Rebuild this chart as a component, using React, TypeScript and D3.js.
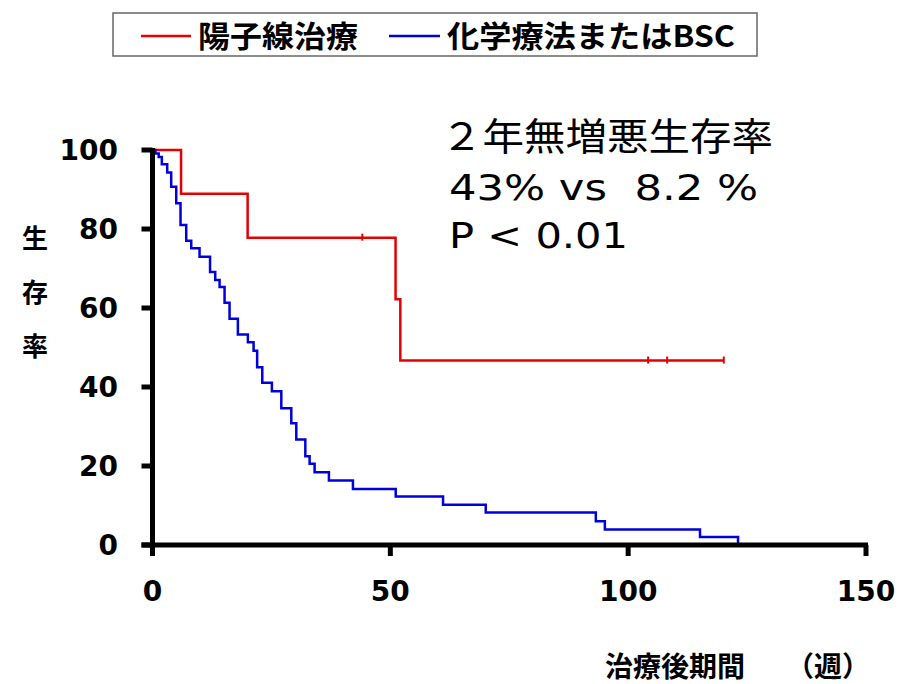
import React from "react";
import * as d3 from "d3";

// Proton therapy (red) Kaplan-Meier steps: week of event, survival after event
const redWeeks = [0, 6.0, 20.0, 51.1, 52.1, 120.1];
const redValues = [100, 88.9, 77.8, 62.2, 46.7, 46.7];
const redCensorWeeks = [44.1, 104.2, 108.2, 120.1];

// Chemotherapy or BSC (blue)
const blueWeeks = [0, 0.6, 1.3, 1.96, 3.09, 3.93, 4.99, 5.89, 7.09, 8.14, 9.89, 12.1, 13.19, 14.1, 15.15, 16.2, 17.95, 20.05, 21.25, 22.0, 23.08, 25.1, 27.08, 29.18, 30.23, 32.13, 33.03, 34.08, 37.09, 42.14, 51.13, 61.08, 70.06, 93.2, 95.1, 115.1, 123.1];
const blueValues = [100, 99.1, 98.2, 96.4, 94.3, 90.7, 86.5, 81.0, 77.0, 75.1, 73.0, 69.1, 67.1, 65.3, 61.3, 57.3, 53.3, 51.3, 49.2, 45.0, 41.1, 38.9, 34.6, 30.8, 26.7, 22.5, 20.6, 18.4, 16.3, 14.2, 12.3, 10.2, 8.2, 6.0, 3.9, 2.0, 0];

const xTicks = [0, 50, 100, 150];
const yTicks = [0, 20, 40, 60, 80, 100];
const legendLabels = ["陽子線治療", "化学療法またはBSC"];
const seriesColors = ["#e40000", "#0000dc"];
const annotationLines = ["２年無増悪生存率", "43% vs  8.2 %", "P < 0.01"];
const yTitle = ["生", "存", "率"];
const xTitle = "治療後期間";
const xTitleUnit = "（週）";

const x = d3.scaleLinear().domain([0, 150]).range([152.5, 866]);
const y = d3.scaleLinear().domain([0, 100]).range([545, 150]);

function stepValue(weeks: number[], values: number[], w: number) {
  let v = values[0];
  for (let i = 0; i < weeks.length; i++) if (weeks[i] <= w) v = values[i];
  return v;
}

export default function App() {
  const line = d3
    .line<[number, number]>()
    .x((d) => x(d[0]))
    .y((d) => y(d[1]))
    .curve(d3.curveStepAfter);
  const redPts = redWeeks.map((w, i) => [w, redValues[i]] as [number, number]);
  const bluePts = blueWeeks.map((w, i) => [w, blueValues[i]] as [number, number]);
  const x0 = x(0);
  const y0 = y(0);
  const tickFont = "'DejaVu Sans', Verdana, sans-serif";
  const jp = "'Noto Sans CJK JP', sans-serif";
  return (
    <div style={{ position: "absolute", left: 0, top: 0 }}>
      <svg width={901} height={684} style={{ display: "block", background: "#fff" }}>
        {/* legend */}
        <rect x={113} y={13} width={644} height={43} fill="#fff" stroke="#666" strokeWidth={1.5} />
        <line x1={141} x2={191} y1={36} y2={36} stroke={seriesColors[0]} strokeWidth={2.5} />
        <text x={198} y={47} fontFamily={jp} fontWeight={700} fontSize={30} fill="#000" textLength={160} lengthAdjust="spacingAndGlyphs">
          {legendLabels[0]}
        </text>
        <line x1={389} x2={440} y1={36} y2={36} stroke={seriesColors[1]} strokeWidth={2.5} />
        <text x={447} y={47} fontFamily={jp} fontWeight={700} fontSize={30} fill="#000" textLength={288} lengthAdjust="spacingAndGlyphs">
          {legendLabels[1]}
        </text>

        {/* annotation */}
        <text x={441} y={150} fontFamily={jp} fontSize={38} fill="#000" textLength={332} lengthAdjust="spacingAndGlyphs">
          {annotationLines[0]}
        </text>
        <text x={449} y={200} fontFamily={tickFont} fontSize={35} fill="#000" textLength={309} lengthAdjust="spacingAndGlyphs" style={{ whiteSpace: "pre" }}>
          {annotationLines[1]}
        </text>
        <text x={449} y={248} fontFamily={tickFont} fontSize={35} fill="#000" textLength={179} lengthAdjust="spacingAndGlyphs" style={{ whiteSpace: "pre" }}>
          {annotationLines[2]}
        </text>

        {/* curves */}
        <path d={line(redPts) || ""} fill="none" stroke={seriesColors[0]} strokeWidth={2.5} />
        <path d={line(bluePts) || ""} fill="none" stroke={seriesColors[1]} strokeWidth={2.5} />
        {redCensorWeeks.map((w, i) => {
          const v = stepValue(redWeeks, redValues, w);
          return (
            <line key={i} x1={x(w)} x2={x(w)} y1={y(v) - 4} y2={y(v) + 3} stroke={seriesColors[0]} strokeWidth={2} />
          );
        })}

        {/* axes */}
        <line x1={x0} x2={x0} y1={y(100) - 2} y2={y0 + 11} stroke="#000" strokeWidth={5} />
        <line x1={x0 - 11} x2={x(150) + 2} y1={y0} y2={y0} stroke="#000" strokeWidth={5} />
        {yTicks.map((t) => (
          <g key={"y" + t}>
            <line x1={x0 - 11} x2={x0} y1={y(t)} y2={y(t)} stroke="#000" strokeWidth={5} />
            <text x={118} y={y(t) + 10} textAnchor="end" fontFamily={tickFont} fontWeight={700} fontSize={28} fill="#000">
              {t}
            </text>
          </g>
        ))}
        {xTicks.map((t) => (
          <g key={"x" + t}>
            <line x1={x(t)} x2={x(t)} y1={y0} y2={y0 + 11} stroke="#000" strokeWidth={5} />
            <text x={x(t)} y={601} textAnchor="middle" fontFamily={tickFont} fontWeight={700} fontSize={28} fill="#000">
              {t}
            </text>
          </g>
        ))}

        {/* axis titles */}
        {yTitle.map((c, i) => (
          <text key={c} x={35} y={248 + i * 54} textAnchor="middle" fontFamily={jp} fontWeight={700} fontSize={26} fill="#000">
            {c}
          </text>
        ))}
        <text x={605} y={677} fontFamily={jp} fontWeight={700} fontSize={28} fill="#000">
          {xTitle}
        </text>
        <text x={786} y={677} fontFamily={jp} fontWeight={700} fontSize={28} fill="#000" textLength={84} lengthAdjust="spacingAndGlyphs">
          {xTitleUnit}
        </text>
      </svg>
    </div>
  );
}
